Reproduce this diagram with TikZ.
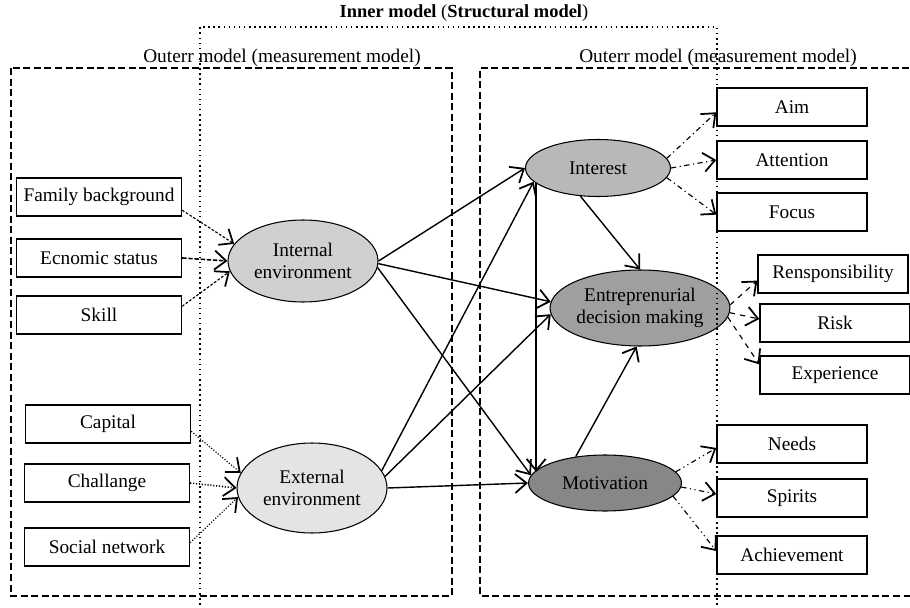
\documentclass[tikz,border=0pt]{standalone}
\usepackage{fontspec}
\setmainfont{Liberation Serif}
\usetikzlibrary{shapes.geometric,arrows.meta}

\begin{document}
\begin{tikzpicture}[x=0.02cm,y=-0.02cm,
        font=\fontsize{11}{12.5}\selectfont,
        >={Straight Barb[length=2.3mm,width=3.8mm,line width=1pt]},
        ind/.style={rectangle,draw,fill=white,line width=0.8pt,minimum height=0.76cm,inner sep=0pt},
        indl/.style={ind,minimum width=3.3cm},
        indr/.style={ind,minimum width=3cm},
        lat/.style={ellipse,draw,line width=0.6pt,inner sep=0pt,align=center},
        struct/.style={->,line width=0.8pt},
        msr/.style={->,line width=0.65pt}]
        \useasboundingbox (0,0) rectangle (910,608);

        \node[font=\fontsize{10.5}{12}\selectfont] at (464,13) (ttl) {\textbf{Inner model} (\textbf{Structural model})};
        \node at (282,58) (outl) {Outerr model (measurement model)};
        \node at (718,58) (outr) {Outerr model (measurement model)};

        \node[indl] at (99,197) (fam) {Family background};
        \node[indl] at (99,258) (eco) {Ecnomic status};
        \node[indl] at (99,315) (skill) {Skill};
        \node[indl] at (108,424) (cap) {Capital};
        \node[indl] at (107,483) (chal) {Challange};
        \node[indl] at (107,547) (soc) {Social network};

        \node[lat,fill=gray!37,minimum width=3cm,minimum height=1.64cm] at (303,261) (intenv) {Internal\\environment};
        \node[lat,fill=gray!21,minimum width=3cm,minimum height=1.8cm] at (312,488) (extenv) {External\\environment};
        \node[lat,fill=gray!56,minimum width=2.9cm,minimum height=1.14cm] at (598,168) (intr) {Interest};
        \node[lat,fill=gray!75,minimum width=3.52cm,minimum height=1.52cm] at (640,308) (edm) {Entreprenurial\\decision making};
        \node[lat,fill=gray!94,minimum width=3.06cm,minimum height=1.12cm] at (605,483) (motiv) {Motivation};

        \node[indr] at (792,107) (aim) {Aim};
        \node[indr] at (792,160) (att) {Attention};
        \node[indr] at (792,212) (foc) {Focus};
        \node[indr] at (833,274) (resp) {Rensponsibility};
        \node[indr] at (835,323) (risk) {Risk};
        \node[indr] at (835,375) (exper) {Experience};
        \node[indr] at (792,444) (needs) {Needs};
        \node[indr] at (792,498) (spir) {Spirits};
        \node[indr] at (792,555) (achv) {Achievement};

        % measurement arrows, left side
        \draw[msr,dash pattern=on 1.5pt off 1pt] (fam.-9) -- (intenv.166);
        \draw[msr,line width=0.9pt,dash pattern=on 2.5pt off 1pt] (eco.east) -- (intenv.west);
        \draw[msr,dash pattern=on 1.5pt off 1pt] (skill.6) -- (intenv.188);
        \draw[msr,densely dotted] (cap.-5) -- (extenv.168);
        \draw[msr,densely dotted,line width=0.9pt] (chal.east) -- (extenv.west);
        \draw[msr,densely dotted] (soc.3) -- (extenv.187);

        % structural paths
        \draw[struct] (intenv.east) -- (intr.west);
        \draw[struct] (intenv.-2) -- (edm.176);
        \draw[struct] (intenv.-5) -- (motiv.174);
        \draw[struct] (extenv.14) -- (intr.192);
        \draw[struct] (extenv.9) -- (edm.184);
        \draw[struct] (extenv.east) -- (motiv.west);
        \draw[struct] (intr.194) -- (intr.194 |- motiv.171);
        \draw[struct] (intr.238) -- (edm.north);
        \draw[struct] (motiv.138) -- (edm.265);

        % measurement arrows, right side
        \draw[msr,dash dot] (intr.8) -- (aim.184);
        \draw[msr,dash dot] (intr.east) -- (att.west);
        \draw[msr,dash dot] (intr.-8) -- (foc.182);
        \draw[msr,dashed] (edm.2) -- (resp.185);
        \draw[msr,dashed] (edm.-3) -- (risk.177);
        \draw[msr,dashed] (edm.-6) -- (exper.172);
        \draw[msr,dash dot dot] (motiv.9) -- (needs.183);
        \draw[msr,dash dot dot] (motiv.-3) -- (spir.177);
        \draw[msr,dash dot dot] (motiv.-11) -- (achv.177);

        % model frames
        \draw[line width=0.8pt,dash pattern=on 4pt off 2pt] (11,68) rectangle (452,596);
        \draw[line width=0.8pt,dash pattern=on 4pt off 2pt] (920,68) -- (480,68) -- (480,596) -- (920,596);
        \draw[line width=0.9pt,dotted] (200,620) -- (200,27) -- (717,27) -- (717,620);
    \end{tikzpicture}
\end{document}
